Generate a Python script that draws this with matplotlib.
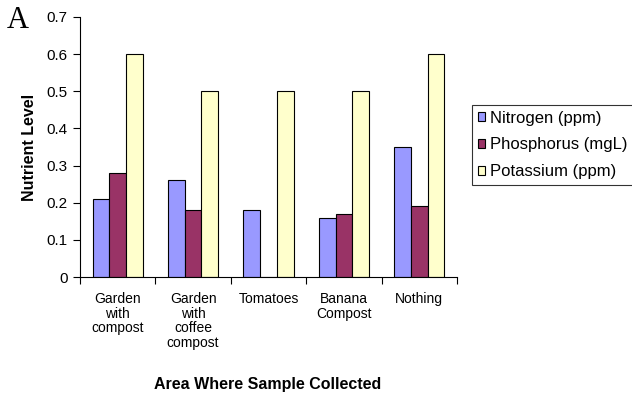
import numpy as np
import matplotlib.pyplot as plt

plt.rcParams["font.family"] = ["Liberation Sans", "DejaVu Sans"]

# Soil nutrient readings per sampling area
areas = ["Garden\nwith\ncompost", "Garden\nwith\ncoffee\ncompost", "Tomatoes",
         "Banana\nCompost", "Nothing"]
nitrogen = [0.21, 0.26, 0.18, 0.16, 0.35]
phosphorus = [0.28, 0.18, 0.0, 0.17, 0.19]
potassium = [0.6, 0.5, 0.5, 0.5, 0.6]

series = [
    ("Nitrogen (ppm)", nitrogen, "#9999FF"),
    ("Phosphorus (mgL)", phosphorus, "#993366"),
    ("Potassium (ppm)", potassium, "#FFFFCC"),
]

fig = plt.figure(figsize=(6.32, 3.95), dpi=100)
ax = fig.add_axes([0.1266, 0.2987, 0.5965, 0.6583])

x = np.arange(len(areas)) + 0.5
w = 1 / 4.5
for k, (name, vals, col) in enumerate(series):
    ax.bar(x + (k - 1) * w, vals, width=w, color=col, edgecolor="black",
           linewidth=0.8, label=name)

ax.set_xlim(0, len(areas))
ax.set_ylim(0, 0.7)
ax.set_yticks(np.arange(0, 0.71, 0.1))
ax.set_yticklabels(["0", "0.1", "0.2", "0.3", "0.4", "0.5", "0.6", "0.7"])
ax.set_xticks(np.arange(len(areas) + 1))
ax.set_xticklabels([])
ax.set_xticks(x, minor=True)
ax.set_xticklabels(areas, minor=True, fontsize=10, linespacing=1.05, va="top")
ax.tick_params(axis="x", which="minor", length=0, pad=11)
ax.tick_params(axis="x", which="major", length=5, width=0.8, direction="out")
ax.tick_params(axis="y", length=5, width=0.8, labelsize=11, pad=4)

for s in ["top", "right"]:
    ax.spines[s].set_visible(False)
for s in ["left", "bottom"]:
    ax.spines[s].set_linewidth(0.8)

ax.set_ylabel("Nutrient Level", fontsize=11.5, fontweight="bold", labelpad=7)
fig.text(268 / 632, 1 - 384 / 395, "Area Where Sample Collected", fontsize=11.5,
         fontweight="bold", ha="center", va="center")
fig.text(7 / 632, 1 - 21 / 395, "A", fontsize=22, family="Liberation Serif",
         ha="left", va="center")

leg = fig.legend(loc="upper left", bbox_to_anchor=(472 / 632, 1 - 105 / 395),
                 fontsize=12, frameon=True, fancybox=False, edgecolor="black",
                 handlelength=0.45, handleheight=0.45, handletextpad=0.25,
                 borderpad=0.35, labelspacing=0.7, borderaxespad=0)
leg.get_frame().set_linewidth(0.8)

fig.savefig("out.png", dpi=100)
